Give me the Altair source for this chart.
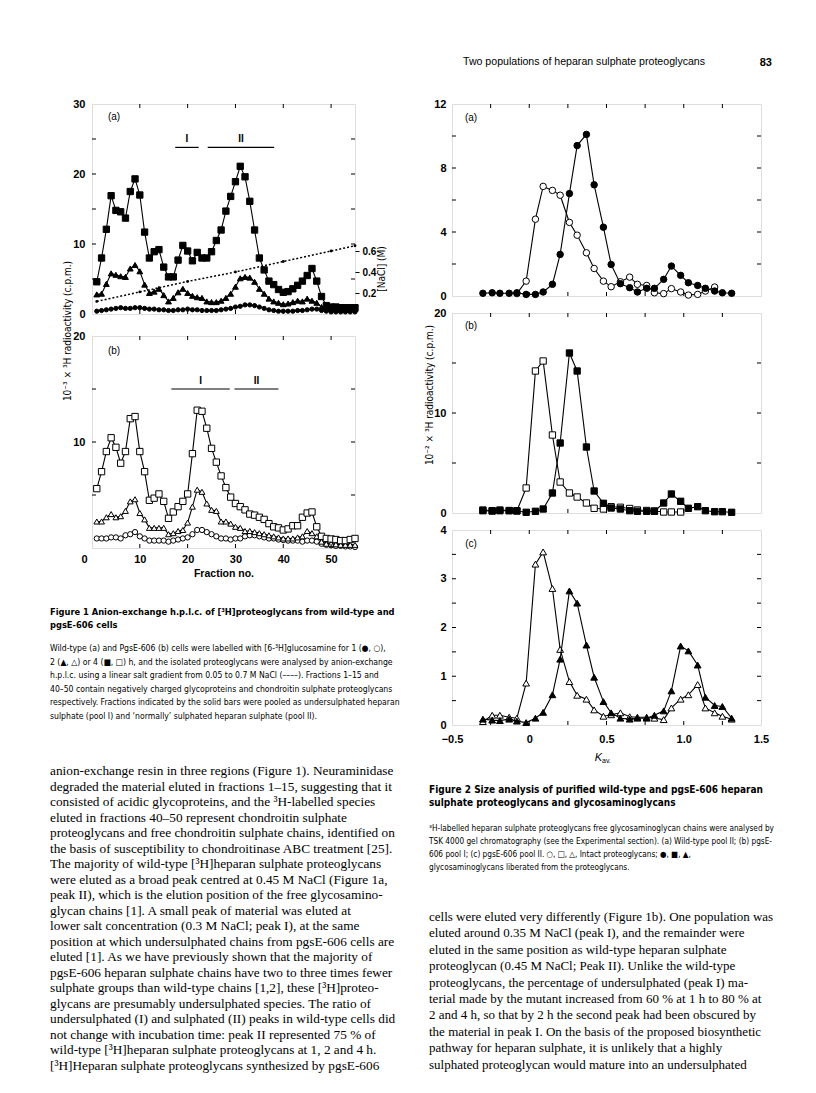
import altair as alt
import pandas as pd

SANS = "Liberation Sans"
NARROW = "'Liberation Sans Narrow', 'DejaVu Sans Condensed', 'Liberation Sans', sans-serif"
SERIF = "Liberation Serif"

# ---------------- Figure 1 data (fraction no. vs 10^-3 x 3H c.p.m.) ----------------
fraction = list(range(1, 56))
f1a_4h = [4.6, 8.0, 12.1, 16.9, 14.8, 14.6, 13.7, 17.5, 19.3, 17.0,
          11.7, 8.0, 8.9, 9.2, 6.7, 5.3, 5.3, 7.7, 9.8, 9.0,
          7.6, 8.8, 8.0, 8.0, 8.9, 10.5, 12.0, 14.7, 16.8, 18.9,
          21.1, 19.6, 16.1, 12.0, 8.0, 6.3, 4.7, 4.2, 3.5, 3.1,
          3.2, 3.6, 4.1, 4.7, 5.5, 6.5, 4.7, 2.5, 1.2, 1.0,
          1.0, 0.9, 0.9, 0.9, 0.9]
f1a_2h = [2.8, 2.9, 4.3, 5.8, 5.6, 5.4, 5.3, 6.5, 7.0, 6.1,
          4.2, 3.0, 3.2, 3.6, 2.7, 1.8, 2.3, 3.1, 3.6, 3.0,
          2.6, 2.4, 2.3, 1.8, 1.7, 1.7, 1.9, 2.3, 2.9, 3.9,
          5.1, 5.3, 5.2, 4.6, 3.6, 2.9, 2.2, 1.8, 1.6, 1.4,
          1.5, 1.7, 1.9, 1.8, 2.2, 1.9, 1.6, 1.0, 0.8, 0.8,
          0.7, 0.7, 0.7, 0.7, 0.7]
f1a_1h = [0.4, 0.5, 0.6, 0.7, 0.8, 0.9, 0.8, 0.8, 0.9, 0.9,
          0.8, 0.7, 0.7, 0.6, 0.6, 0.5, 0.5, 0.6, 0.6, 0.7,
          0.6, 0.6, 0.5, 0.5, 0.5, 0.5, 0.6, 0.7, 0.8, 1.0,
          1.1, 1.3, 1.3, 1.2, 1.0, 0.8, 0.6, 0.5, 0.4, 0.4,
          0.4, 0.4, 0.5, 0.5, 0.6, 0.7, 0.7, 0.5, 0.4, 0.3,
          0.3, 0.3, 0.3, 0.3, 0.3]
nacl_fraction = [1, 10, 20, 30, 40, 50, 55]
nacl_molar = [0.12, 0.21, 0.31, 0.40, 0.50, 0.60, 0.65]

f1b_4h = [5.6, 7.2, 9.1, 10.4, 9.5, 8.0, 9.1, 12.2, 12.4, 9.1,
          7.2, 4.5, 4.7, 5.1, 4.4, 2.8, 3.4, 3.9, 4.4, 5.1,
          8.9, 13.0, 12.9, 11.3, 9.4, 8.1, 6.8, 5.7, 4.8, 4.2,
          3.9, 3.6, 3.2, 3.1, 2.9, 2.7, 2.3, 2.0, 1.9, 1.7,
          1.8, 2.1, 2.1, 2.9, 3.3, 3.4, 2.0, 1.1, 0.9, 0.85,
          0.8, 0.7, 0.7, 0.8, 0.9]
f1b_2h = [2.5, 2.5, 2.9, 3.2, 2.9, 3.0, 3.5, 4.4, 4.6, 3.3,
          2.7, 1.9, 1.9, 1.9, 1.9, 1.3, 1.4, 1.6, 1.7, 2.4,
          3.9, 5.5, 5.3, 4.2, 3.6, 3.5, 2.5, 2.5, 2.3, 2.0,
          1.9, 1.6, 1.6, 1.5, 1.4, 1.3, 1.2, 1.1, 1.0, 0.9,
          0.9, 0.9, 1.0, 1.1, 1.6, 1.4, 1.1, 0.6, 0.4, 0.4,
          0.35, 0.3, 0.3, 0.3, 0.3]
f1b_1h = [0.9, 0.9, 0.9, 1.0, 1.0, 0.9, 1.2, 1.3, 1.5, 1.1,
          0.9, 0.7, 0.7, 0.7, 0.7, 0.6, 0.7, 0.8, 0.9, 1.0,
          1.3, 1.7, 1.7, 1.5, 1.3, 1.1, 0.9, 0.9, 0.8, 0.9,
          0.9, 1.1, 1.2, 1.2, 1.1, 1.0, 0.9, 0.9, 0.8, 0.75,
          0.7, 0.7, 0.7, 0.6, 0.7, 0.7, 0.6, 0.4, 0.3, 0.25,
          0.2, 0.2, 0.15, 0.15, 0.1]

pool_names = ["I", "II"]
f1a_pool_start = [17.4, 24.2]
f1a_pool_end = [22.3, 38.1]
f1a_pool_level = [23.8, 23.8]
f1b_pool_start = [16.6, 29.8]
f1b_pool_end = [28.8, 39.0]
f1b_pool_level = [15.0, 15.0]

# ---------------- Figure 2 data (Kav vs 10^-2 x 3H c.p.m.) ----------------
kav = [-0.30, -0.24, -0.19, -0.13, -0.08, -0.02, 0.04, 0.09, 0.15, 0.20,
       0.26, 0.31, 0.37, 0.42, 0.48, 0.53, 0.59, 0.65, 0.70, 0.76,
       0.81, 0.87, 0.92, 0.98, 1.03, 1.09, 1.14, 1.20, 1.25, 1.31]
f2a_gag = [0.17, 0.2, 0.17, 0.17, 0.2, 0.1, 0.1, 0.25, 0.73, 2.6,
           6.4, 9.4, 10.1, 6.95, 4.3, 1.97, 0.77, 0.52, 0.25, 0.48,
           0.48, 1.04, 1.87, 1.29, 0.83, 0.66, 0.48, 0.31, 0.2, 0.17]
f2a_pg_kav = kav[4:28]
f2a_pg = [0.15, 0.93, 4.8, 6.85, 6.6, 6.3, 4.6, 3.8, 2.7, 1.72,
          0.93, 0.58, 0.89, 1.18, 0.73, 0.66, 0.2, 0.15, 0.46, 0.25,
          0.06, 0.1, 0.31, 0.56]
f2b_pg_kav = kav[0:24]
f2b_pg = [0.3, 0.23, 0.3, 0.25, 0.23, 2.5, 14.2, 15.2, 7.8, 3.1,
          2.0, 1.6, 1.0, 0.47, 0.4, 0.63, 0.57, 0.45, 0.3, 0.25,
          0.2, 0.1, 0.1, 0.1]
f2b_gag = [0.23, 0.2, 0.23, 0.23, 0.2, 0.07, 0.17, 0.4, 2.0, 7.0,
           16.0, 14.2, 6.6, 2.2, 0.97, 0.5, 0.4, 0.23, 0.17, 0.17,
           0.17, 1.0, 1.9, 1.17, 0.47, 0.63, 0.23, 0.13, 0.13, 0.07]
f2c_pg = [0.07, 0.2, 0.2, 0.16, 0.14, 0.86, 3.3, 3.55, 2.8, 1.55,
          0.89, 0.61, 0.53, 0.31, 0.18, 0.21, 0.25, 0.17, 0.16, 0.16,
          0.14, 0.11, 0.35, 0.53, 0.62, 0.83, 0.35, 0.25, 0.18, 0.12]
f2c_gag = [0.12, 0.1, 0.09, 0.12, 0.08, 0.05, 0.14, 0.26, 0.62, 1.35,
           2.75, 2.5, 1.64, 0.98, 0.48, 0.25, 0.14, 0.12, 0.14, 0.14,
           0.2, 0.29, 0.7, 1.62, 1.52, 1.23, 0.57, 0.4, 0.38, 0.14]

# ---------------- Page text ----------------
header_text = ["Two populations of heparan sulphate proteoglycans"]
page_number = ["83"]
fig1_title = ["Figure 1   Anion-exchange h.p.l.c. of [³H]proteoglycans from wild-type and",
              "pgsE-606 cells"]
fig1_caption = [
    "Wild-type (a) and PgsE-606 (b) cells were labelled with [6-³H]glucosamine for 1 (●, ○),",
    "2 (▲, △) or 4 (■, □) h, and the isolated proteoglycans were analysed by anion-exchange",
    "h.p.l.c. using a linear salt gradient from 0.05 to 0.7 M NaCl (––––). Fractions 1–15 and",
    "40–50 contain negatively charged glycoproteins and chondroitin sulphate proteoglycans",
    "respectively. Fractions indicated by the solid bars were pooled as undersulphated heparan",
    "sulphate (pool I) and ‘normally’ sulphated heparan sulphate (pool II).",
]
left_body = [
    "anion-exchange resin in three regions (Figure 1). Neuraminidase",
    "degraded the material eluted in fractions 1–15, suggesting that it",
    "consisted of acidic glycoproteins, and the ³H-labelled species",
    "eluted in fractions 40–50 represent chondroitin sulphate",
    "proteoglycans and free chondroitin sulphate chains, identified on",
    "the basis of susceptibility to chondroitinase ABC treatment [25].",
    "The majority of wild-type [³H]heparan sulphate proteoglycans",
    "were eluted as a broad peak centred at 0.45 M NaCl (Figure 1a,",
    "peak II), which is the elution position of the free glycosamino-",
    "glycan chains [1]. A small peak of material was eluted at",
    "lower salt concentration (0.3 M NaCl; peak I), at the same",
    "position at which undersulphated chains from pgsE-606 cells are",
    "eluted [1]. As we have previously shown that the majority of",
    "pgsE-606 heparan sulphate chains have two to three times fewer",
    "sulphate groups than wild-type chains [1,2], these [³H]proteo-",
    "glycans are presumably undersulphated species. The ratio of",
    "undersulphated (I) and sulphated (II) peaks in wild-type cells did",
    "not change with incubation time: peak II represented 75 % of",
    "wild-type [³H]heparan sulphate proteoglycans at 1, 2 and 4 h.",
    "    [³H]Heparan sulphate proteoglycans synthesized by pgsE-606",
]
fig2_title = ["Figure 2   Size analysis of purified wild-type and pgsE-606 heparan",
              "sulphate proteoglycans and glycosaminoglycans"]
fig2_caption = [
    "³H-labelled heparan sulphate proteoglycans free glycosaminoglycan chains were analysed by",
    "TSK 4000 gel chromatography (see the Experimental section). (a) Wild-type pool II; (b) pgsE-",
    "606 pool I; (c) pgsE-606 pool II. ○, □, △, Intact proteoglycans; ●, ■, ▲,",
    "glycosaminoglycans liberated from the proteoglycans.",
]
right_body = [
    "cells were eluted very differently (Figure 1b). One population was",
    "eluted around 0.35 M NaCl (peak I), and the remainder were",
    "eluted in the same position as wild-type heparan sulphate",
    "proteoglycan (0.45 M NaCl; Peak II). Unlike the wild-type",
    "proteoglycans, the percentage of undersulphated (peak I) ma-",
    "terial made by the mutant increased from 60 % at 1 h to 80 % at",
    "2 and 4 h, so that by 2 h the second peak had been obscured by",
    "the material in peak I. On the basis of the proposed biosynthetic",
    "pathway for heparan sulphate, it is unlikely that a highly",
    "sulphated proteoglycan would mature into an undersulphated",
]


# ---------------- helpers ----------------
class Frame:
    """Scales and axes shared by every layer of one panel."""
    def __init__(self, sx, sy, xa, ya, W, H):
        self.sx, self.sy, self.xa, self.ya, self.W, self.H = sx, sy, xa, ya, W, H

    def X(self, f):
        return alt.X(f, scale=self.sx, axis=self.xa)

    def Y(self, f):
        return alt.Y(f, scale=self.sy, axis=self.ya)


def series(fr, xs, ys, shape, filled, size, stroke_w=1.1):
    base = alt.Chart(pd.DataFrame({"x": xs, "y": ys}))
    enc = dict(x=fr.X("x:Q"), y=fr.Y("y:Q"))
    line = base.mark_line(color="black", strokeWidth=stroke_w).encode(**enc)
    pts = base.mark_point(shape=shape, filled=True, fill="black" if filled else "white",
                          stroke="black", strokeWidth=1, size=size, opacity=1).encode(**enc)
    return [line, pts]


def inward_ticks(fr, yvals, xvals, L=4):
    out = []
    dy = alt.Chart(pd.DataFrame({"v": yvals}))
    out.append(dy.mark_rule(color="black", strokeWidth=1).encode(
        y=fr.Y("v:Q"), x=alt.value(0), x2=alt.value(L)))
    out.append(dy.mark_rule(color="black", strokeWidth=1).encode(
        y=fr.Y("v:Q"), x=alt.value(fr.W), x2=alt.value(fr.W - L)))
    dx = alt.Chart(pd.DataFrame({"v": xvals}))
    out.append(dx.mark_rule(color="black", strokeWidth=1).encode(
        x=fr.X("v:Q"), y=alt.value(0), y2=alt.value(L)))
    out.append(dx.mark_rule(color="black", strokeWidth=1).encode(
        x=fr.X("v:Q"), y=alt.value(fr.H), y2=alt.value(fr.H - L)))
    return out


def text_block(lines, x, y, size, font=SANS, weight="normal", lh=None, align="left",
               angle=0, baseline="top", style="normal"):
    data = alt.Data(values=[{"t": "\n".join(lines)}])
    kw = dict(align=align, baseline=baseline, font=font, fontSize=size,
              fontWeight=weight, color="black", fontStyle=style)
    if lh is not None:
        kw["lineBreak"] = "\n"
        kw["lineHeight"] = lh
    if angle:
        kw["angle"] = angle
    return alt.Chart(data).mark_text(**kw).encode(x=alt.value(x), y=alt.value(y), text="t:N")


def pools(fr, names, start, end, level):
    df = pd.DataFrame({"name": names, "start": start, "end": end, "level": level})
    base = alt.Chart(df)
    bars = base.mark_rule(color="black", strokeWidth=1.2).encode(
        x=fr.X("start:Q"), x2="end:Q", y=fr.Y("level:Q"))
    labels = base.transform_calculate(mid="(datum.start + datum.end) / 2").mark_text(
        font=SANS, fontWeight="bold", fontSize=10, dy=-8, color="black").encode(
        x=fr.X("mid:Q"), y=fr.Y("level:Q"), text="name:N")
    return [bars, labels]


def yaxis(vals, pad=6, size=11):
    return alt.Axis(values=vals, ticks=False, domain=False, grid=False, title=None,
                    labelFont=SANS, labelFontWeight="bold", labelFontSize=size,
                    labelColor="black", labelPadding=pad)


# text columns of the page, relative to the plot left edges (91 and 451)
LEFT_COL = -42   # page x = 49
RIGHT_COL = -23  # page x = 428

# ---------------- Figure 1 ----------------
W1, H1a, H1b = 263, 210, 212
sx1 = alt.Scale(domain=[0, 55], nice=False, zero=False)
sy1a = alt.Scale(domain=[0, 30], nice=False)
sy1b = alt.Scale(domain=[0, 20], nice=False)
snacl = alt.Scale(domain=[0, 2.0], nice=False)

fr1a = Frame(sx1, sy1a, None, yaxis([0, 10, 20, 30], 7), W1, H1a)
f1a_layers = []
f1a_layers += series(fr1a, fraction, f1a_1h, "circle", True, 18)
f1a_layers += series(fr1a, fraction, f1a_2h, "triangle-up", True, 34)
f1a_layers += series(fr1a, fraction, f1a_4h, "square", True, 40)
f1a_layers += inward_ticks(fr1a, [5, 10, 15, 20, 25], [10, 20, 30, 40, 50])
f1a_layers += pools(fr1a, pool_names, f1a_pool_start, f1a_pool_end, f1a_pool_level)
f1a_layers.append(text_block(["(a)"], 22, 13, 10, baseline="middle", align="center"))
f1a_layers.append(text_block(["10⁻³ × ³H radioactivity (c.p.m.)"], -24, 227, 10, font=NARROW,
                             angle=270, align="center", baseline="middle"))
f1a_layers.append(text_block(["[NaCl] (M)"], 290, 165, 10, font=NARROW, angle=270,
                             align="center", baseline="middle"))

nacl_axis = alt.Axis(orient="right", values=[0.2, 0.4, 0.6], format=".1f", ticks=True,
                     tickSize=4, tickColor="black", domain=False, grid=False, title=None,
                     labelFont=SANS, labelFontWeight="bold", labelFontSize=10,
                     labelColor="black", labelPadding=3)
fr_nacl = Frame(sx1, snacl, None, nacl_axis, W1, H1a)
nacl_base = alt.Chart(pd.DataFrame({"x": nacl_fraction, "y": nacl_molar}))
nacl_line = nacl_base.mark_line(color="black", strokeWidth=1.5, strokeDash=[2, 2]).encode(
    x=fr_nacl.X("x:Q"), y=fr_nacl.Y("y:Q"))
nacl_pts = nacl_base.mark_point(shape="circle", filled=True, color="black", size=8, opacity=1).encode(
    x=fr_nacl.X("x:Q"), y=fr_nacl.Y("y:Q"))

f1a = alt.layer(alt.layer(*f1a_layers), alt.layer(nacl_line, nacl_pts)).resolve_scale(
    y="independent").properties(width=W1, height=H1a)

x1axis = alt.Axis(values=[0, 10, 20, 30, 40, 50], ticks=False, domain=False, grid=False,
                  labelFont=SANS, labelFontWeight="bold", labelFontSize=11, labelColor="black",
                  labelPadding=5, labelFlush=False,
                  labelOffset={"condition": {"test": "datum.value === 0", "value": -8}, "value": 0},
                  title="Fraction no.", titleFont=SANS,
                  titleFontWeight="bold", titleFontSize=10.5, titleColor="black", titlePadding=4)
fr1b = Frame(sx1, sy1b, x1axis, yaxis([10, 20], 7), W1, H1b)
f1b_layers = []
f1b_layers += series(fr1b, fraction, f1b_1h, "circle", False, 28)
f1b_layers += series(fr1b, fraction, f1b_2h, "triangle-up", False, 34)
f1b_layers += series(fr1b, fraction, f1b_4h, "square", False, 40)
f1b_layers += inward_ticks(fr1b, [5, 10, 15], [10, 20, 30, 40, 50])
f1b_layers += pools(fr1b, pool_names, f1b_pool_start, f1b_pool_end, f1b_pool_level)
f1b_layers.append(text_block(["(b)"], 22, 15, 10, baseline="middle", align="center"))
# page text under Figure 1 (coordinates relative to this panel)
f1b_layers.append(text_block(fig1_title, LEFT_COL, 272, 9.25, font=NARROW, weight="bold", lh=13))
f1b_layers.append(text_block(fig1_caption, LEFT_COL, 308, 8.6, font=NARROW, lh=13.6))
f1b_layers.append(text_block(left_body, LEFT_COL, 428, 13.3, font=SERIF, lh=15.5))
f1b = alt.layer(*f1b_layers).properties(width=W1, height=H1b)

# ---------------- Figure 2 ----------------
W2, H2a, H2b, H2c = 309, 192, 200, 195
sx2 = alt.Scale(domain=[-0.5, 1.5], nice=False, zero=False)
sy2a = alt.Scale(domain=[0, 12], nice=False)
sy2b = alt.Scale(domain=[0, 20], nice=False)
sy2c = alt.Scale(domain=[0, 4], nice=False)
k_ticks = [-0.25, 0, 0.25, 0.5, 0.75, 1.0, 1.25]

fr2a = Frame(sx2, sy2a, None, yaxis([0, 4, 8, 12]), W2, H2a)
f2a_layers = []
f2a_layers += series(fr2a, f2a_pg_kav, f2a_pg, "circle", False, 42)
f2a_layers += series(fr2a, kav, f2a_gag, "circle", True, 42)
f2a_layers += inward_ticks(fr2a, [2, 4, 6, 8, 10], k_ticks)
f2a_layers.append(text_block(["(a)"], 19, 14, 10, baseline="middle", align="center"))
f2a_layers.append(text_block(header_text, 11, -47, 10.6, font=SANS))
f2a_layers.append(text_block(page_number, 320, -47, 11, font=SANS, weight="bold", align="right"))
f2a = alt.layer(*f2a_layers).properties(width=W2, height=H2a)

fr2b = Frame(sx2, sy2b, None, yaxis([0, 10, 20]), W2, H2b)
f2b_layers = []
f2b_layers += series(fr2b, f2b_pg_kav, f2b_pg, "square", False, 40)
f2b_layers += series(fr2b, kav, f2b_gag, "square", True, 40)
f2b_layers += inward_ticks(fr2b, [5, 10, 15], k_ticks)
f2b_layers.append(text_block(["(b)"], 19, 13, 10, baseline="middle", align="center"))
f2b_layers.append(text_block(["10⁻² × ³H radioactivity (c.p.m.)"], -22, 82, 10, font=NARROW,
                             angle=270, align="center", baseline="middle"))
f2b = alt.layer(*f2b_layers).properties(width=W2, height=H2b)

x2axis = alt.Axis(values=[-0.5, 0, 0.5, 1.0, 1.5], ticks=False, domain=False, grid=False,
                  labelExpr="datum.value == 0 ? '0' : format(datum.value, '.1f')",
                  labelFont=SANS, labelFontWeight="bold", labelFontSize=11, labelColor="black",
                  labelPadding=8, labelFlush=False, title=None)
fr2c = Frame(sx2, sy2c, x2axis, yaxis([0, 1, 2, 3, 4]), W2, H2c)
f2c_layers = []
f2c_layers += series(fr2c, kav, f2c_pg, "triangle-up", False, 46)
f2c_layers += series(fr2c, kav, f2c_gag, "triangle-up", True, 46)
f2c_layers += inward_ticks(fr2c, [0.5, 1, 1.5, 2, 2.5, 3, 3.5], k_ticks)
f2c_layers.append(text_block(["(c)"], 19, 14, 10, baseline="middle", align="center"))
f2c_layers.append(text_block(["K"], 150, 228, 11, font=SANS, style="italic", baseline="middle", align="right"))
f2c_layers.append(text_block(["av."], 150, 231, 7, font=SANS, baseline="middle", align="left"))
f2c_layers.append(text_block(fig2_title, RIGHT_COL, 255, 10.0, font=NARROW, weight="bold", lh=13))
f2c_layers.append(text_block(fig2_caption, RIGHT_COL, 295, 8.2, font=NARROW, lh=13))
f2c_layers.append(text_block(right_body, RIGHT_COL, 381, 13.0, font=SERIF, lh=16.4))
f2c = alt.layer(*f2c_layers).properties(width=W2, height=H2c)

left = alt.vconcat(f1a, f1b, spacing=22, bounds="flush")
right = alt.vconcat(f2a, f2b, f2c, spacing=17, bounds="flush")

# nested concat groups count as zero width in a flush layout, so the spacing
# carries the left column's plot width (263) plus the 97 px gutter
chart = alt.hconcat(left, right, spacing=W1 + 97, bounds="flush").properties(
    padding={"left": 41, "top": 48, "right": 2, "bottom": 2}
).configure_view(stroke="black", strokeWidth=1).configure(background="white")

chart.save("out.html", embed_options={"renderer": "svg", "actions": False})
